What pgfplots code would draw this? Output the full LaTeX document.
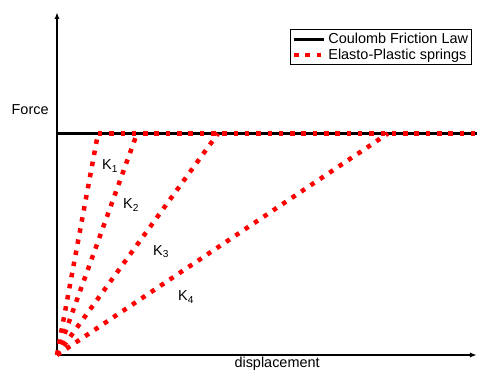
\documentclass[border=0pt]{standalone}
\usepackage{fontspec}
\setmainfont{Liberation Sans}
\usepackage{pgfplots}
\pgfplotsset{compat=1.18}
\usetikzlibrary{arrows.meta}
\begin{document}
\begin{tikzpicture}[font=\fontsize{14.5}{17}\selectfont]
\useasboundingbox (-57bp,-21bp) rectangle (420bp,355bp);
\begin{axis}[
  scale only axis, width=420bp, height=343bp,
  xmin=0, xmax=420, ymin=0, ymax=343,
  axis lines=left,
  axis line style={line width=1.6bp, -{Latex[length=7bp,width=5bp]}},
  xtick=\empty, ytick=\empty,
  clip=false,
  xlabel={displacement},
  xlabel style={at={(axis description cs:0.524,-0.026)}, anchor=center},
  ylabel={Force},
  ylabel style={rotate=-90, at={(axis description cs:-0.064,0.714)}, anchor=center},
  legend style={at={(axis description cs:0.988,0.950)}, anchor=north east,
    draw=black, line width=0.8bp, inner sep=1.5bp, row sep=0pt,
    font=\fontsize{14.5}{17}\selectfont, cells={anchor=west}},
  legend image code/.code={\draw[#1] (0bp,0bp) -- (30bp,0bp);},
  redd/.style={red, line width=4.5bp, dash pattern=on 4.5bp off 6.8bp},
]
\addplot[black, line width=3bp] coordinates {(0,221.5) (420,221.5)};
\addlegendentry{Coulomb Friction Law}
\addplot[redd] coordinates {(41,221.5) (420,221.5)};
\addlegendentry{Elasto-Plastic springs}
\addplot[redd, forget plot] coordinates {(0,0) (41,221.5)};
\addplot[redd, forget plot] coordinates {(0,0) (80,221.5)};
\addplot[redd, forget plot] coordinates {(0,0) (161,221.5)};
\addplot[redd, forget plot] coordinates {(0,0) (331,221.5)};
\node at (axis cs:53,189) {K\textsubscript{1}};
\node at (axis cs:74,150) {K\textsubscript{2}};
\node at (axis cs:104,103) {K\textsubscript{3}};
\node at (axis cs:129,58) {K\textsubscript{4}};
\end{axis}
\end{tikzpicture}
\end{document}
